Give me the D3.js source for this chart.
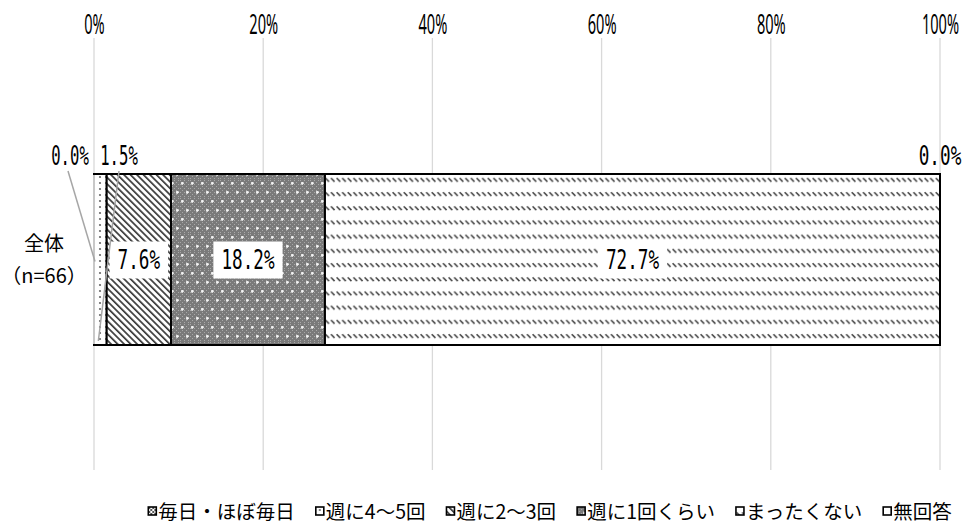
<!DOCTYPE html>
<html><head><meta charset="utf-8">
<script src="https://cdn.jsdelivr.net/npm/d3@7"></script>
<style>
html,body{margin:0;padding:0;background:#fff;}
svg{display:block;}
</style></head>
<body>
<svg id="chart" width="964" height="526"></svg>
<script>
// ---- data ----
const categories = ["全体（n=66）"];
const categoryLines = ["全体", "（n=66）"];
const seriesNames = ["毎日・ほぼ毎日", "週に4～5回", "週に2～3回", "週に1回くらい", "まったくない", "無回答"];
const seriesValues = [0.0, 1.5, 7.6, 18.2, 72.7, 0.0];
const tickValues = [0, 20, 40, 60, 80, 100];
const tickLabels = ["0%", "20%", "40%", "60%", "80%", "100%"];

const svg = d3.select("#chart");

const x = d3.scaleLinear().domain([0, 100]).range([94, 940]);
const y = d3.scaleBand().domain(categories).range([174, 345]).padding(0);
const gridTop = 38, gridBottom = 470;

// ---- patterns ----
const defs = svg.append("defs");
const patIds = ["p0", "p1", "p2", "p3", "p4", "p5"];
{
  const p = defs.append("pattern").attr("id", "p0").attr("patternUnits", "userSpaceOnUse").attr("width", 4).attr("height", 4);
  p.append("rect").attr("width", 4).attr("height", 4).attr("fill", "#fff");
  p.append("rect").attr("width", 2).attr("height", 2).attr("fill", "#555");
  p.append("rect").attr("x", 2).attr("y", 2).attr("width", 2).attr("height", 2).attr("fill", "#555");
}
{
  const p = defs.append("pattern").attr("id", "p1").attr("patternUnits", "userSpaceOnUse").attr("width", 6).attr("height", 6).attr("x", 97).attr("y", 174);
  p.append("rect").attr("width", 6).attr("height", 6).attr("fill", "#fff");
  p.append("circle").attr("cx", 3).attr("cy", 3).attr("r", 1.1).attr("fill", "#666");
}
{
  const p = defs.append("pattern").attr("id", "p2").attr("patternUnits", "userSpaceOnUse").attr("width", 4.6).attr("height", 4.6)
    .attr("patternTransform", "rotate(-45)");
  p.append("rect").attr("width", 4.6).attr("height", 4.6).attr("fill", "#fff");
  p.append("rect").attr("width", 1.7).attr("height", 4.6).attr("fill", "#3a3a3a");
}
{
  const p = defs.append("pattern").attr("id", "p3").attr("patternUnits", "userSpaceOnUse").attr("width", 10).attr("height", 18);
  p.append("rect").attr("width", 10).attr("height", 18).attr("fill", "#7a7a7a");
  for (let i = 0; i < 10; i += 2) for (let j = 0; j < 18; j += 2) {
    if ((i + j) % 4 === 0) p.append("rect").attr("x", i).attr("y", j).attr("width", 1).attr("height", 1).attr("fill", "#a8a8a8");
  }
  [[2, 3], [7, 12]].forEach(([cx, cy]) => {
    p.append("rect").attr("x", cx - 1).attr("y", cy - 0.5).attr("width", 3).attr("height", 1.2).attr("fill", "#fff");
    p.append("rect").attr("x", cx - 0.5).attr("y", cy - 1).attr("width", 1.2).attr("height", 3).attr("fill", "#fff");
  });
}
{
  const p = defs.append("pattern").attr("id", "p4").attr("patternUnits", "userSpaceOnUse").attr("width", 5.6).attr("height", 14.2).attr("y", 174);
  p.append("rect").attr("width", 5.6).attr("height", 14.2).attr("fill", "#fff");
  p.append("line").attr("x1", 0.6).attr("y1", 4).attr("x2", 4.2).attr("y2", 7.6).attr("stroke", "#444").attr("stroke-width", 1.6);
}
{
  const p = defs.append("pattern").attr("id", "p5").attr("patternUnits", "userSpaceOnUse").attr("width", 4).attr("height", 4);
  p.append("rect").attr("width", 4).attr("height", 4).attr("fill", "#fff");
}

// ---- gridlines ----
svg.append("g").selectAll("line").data(tickValues).join("line")
  .attr("x1", d => x(d)).attr("x2", d => x(d))
  .attr("y1", gridTop).attr("y2", gridBottom)
  .attr("stroke", "#d9d9d9").attr("stroke-width", 1.3);

// ---- top axis ----
const axis = d3.axisTop(x).tickValues(tickValues).tickFormat((d, i) => tickLabels[i]).tickSize(0).tickPadding(0);
const ag = svg.append("g").attr("transform", "translate(0,34)").call(axis);
ag.select(".domain").remove();
ag.selectAll("text")
  .attr("y", 0).attr("dy", 0)
  .attr("font-family", "'Noto Sans', sans-serif").attr("font-size", 27).attr("fill", "#000")
  .attr("transform", "scale(0.54,1)");

// ---- stacked bar ----
const stackData = [];
let acc = 0;
seriesValues.forEach((v, i) => { stackData.push({ name: seriesNames[i], v, x0: acc, x1: acc + v, i }); acc += v; });

const cat = categories[0];
const by = y(cat), bh = y.bandwidth();
const barG = svg.append("g");
barG.selectAll("rect").data(stackData.filter(d => d.v > 0)).join("rect")
  .attr("x", d => x(d.x0)).attr("y", by)
  .attr("width", d => x(d.x1) - x(d.x0)).attr("height", bh)
  .attr("fill", d => `url(#${patIds[d.i]})`)
  .attr("stroke", "#000").attr("stroke-width", 2);
barG.append("line").attr("x1", x(0)).attr("x2", x(0)).attr("y1", by + 1).attr("y2", by + bh - 1)
  .attr("stroke", "#c8c8c8").attr("stroke-width", 2);
barG.append("line").attr("x1", x(100)).attr("x2", x(100)).attr("y1", by).attr("y2", by + bh)
  .attr("stroke", "#000").attr("stroke-width", 2);

// ---- labels ----
const fmt = v => v.toFixed(1) + "%";
const monoFont = "'DejaVu Sans Mono', monospace";
const fs = 26, sx = 0.68;
function numLabel(g, cx, baseY, txt, box, sxx) {
  const s = sxx || sx;
  const t = g.append("g").attr("transform", `translate(${cx},${baseY})`);
  if (box) {
    const w = txt.length * 0.602 * fs * s + 16;
    t.append("rect").attr("x", -w / 2).attr("y", -27).attr("width", w).attr("height", 37).attr("fill", "#fff");
  }
  t.append("text").attr("text-anchor", "middle").attr("transform", `scale(${s},1)`)
    .attr("font-family", monoFont).attr("font-size", fs).attr("fill", "#000").text(txt);
}
const labG = svg.append("g");
const midY = by + bh / 2;
stackData.forEach(d => {
  if (d.v >= 5) numLabel(labG, x((d.x0 + d.x1) / 2), midY + 9, fmt(d.v), true);
});
const lead0 = stackData[0], lead1 = stackData[1], last = stackData[5];
labG.append("line").attr("x1", 68).attr("y1", 171).attr("x2", x(lead0.x0) + 1).attr("y2", midY + 2)
  .attr("stroke", "#a6a6a6").attr("stroke-width", 1.5);
labG.append("line").attr("x1", 119).attr("y1", 171).attr("x2", x((lead1.x0 + lead1.x1) / 2) - 2).attr("y2", by + bh - 4)
  .attr("stroke", "#a6a6a6").attr("stroke-width", 1.5);
numLabel(labG, 70, 165, fmt(lead0.v), false, 0.6);
numLabel(labG, 119, 165, fmt(lead1.v), false, 0.6);
numLabel(labG, x(last.x0), 165, fmt(last.v), false);

// ---- category label ----
const cg = svg.append("g").attr("font-family", "'Noto Sans CJK JP', sans-serif").attr("font-size", 20).attr("fill", "#000");
cg.append("text").attr("x", 44).attr("y", 251).attr("text-anchor", "middle").text(categoryLines[0]);
cg.append("text").attr("x", 44).attr("y", 283).attr("text-anchor", "middle").text(categoryLines[1]);

// ---- legend ----
const lg = svg.append("g").attr("font-family", "'Noto Sans CJK JP', sans-serif").attr("font-size", 19.5);
const items = [];
seriesNames.forEach((n, i) => {
  const it = lg.append("g");
  it.append("rect").attr("x", 0).attr("y", -12).attr("width", 8).attr("height", 8)
    .attr("fill", `url(#${patIds[i]})`).attr("stroke", "#000").attr("stroke-width", 1.6);
  const t = it.append("text").attr("x", 10).attr("y", 0).attr("fill", "#000").text(n);
  const w = 10 + t.node().getComputedTextLength();
  items.push({ it, w });
});
const gap = 21;
const totalW = d3.sum(items, d => d.w) + gap * (items.length - 1);
let cx0 = 550 - totalW / 2;
items.forEach(d => { d.it.attr("transform", `translate(${cx0},519)`); cx0 += d.w + gap; });
</script>
</body></html>
